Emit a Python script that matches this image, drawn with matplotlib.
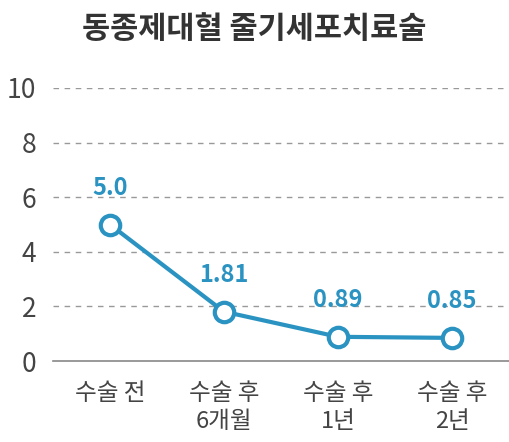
import matplotlib.pyplot as plt

plt.rcParams['font.family'] = ['Roboto', 'Noto Sans CJK KR', 'DejaVu Sans']

categories = ['수술 전', '수술 후\n6개월', '수술 후\n1년', '수술 후\n2년']
values = [5.0, 1.81, 0.89, 0.85]
value_labels = ['5.0', '1.81', '0.89', '0.85']
yticks = [0, 2, 4, 6, 8, 10]

blue = '#2a93c1'

fig = plt.figure(figsize=(5.09, 4.42), dpi=100)
ax = fig.add_axes([0.104, 0.183, 0.896, 0.618])

x = list(range(len(categories)))
ax.plot(x, values, color=blue, lw=3, marker='o', ms=14, mfc='white',
        mec=blue, mew=3, zorder=3, clip_on=False)
for xi, v, lab in zip(x, values, value_labels):
    ax.annotate(lab, (xi, v), xytext=(0, 18), textcoords='offset points',
                ha='center', va='bottom', color=blue, fontsize=17,
                fontweight='bold', family=['Noto Sans CJK KR'])

ax.set_xlim(-0.5, 3.5)
ax.set_ylim(0, 10)
ax.set_yticks(yticks)
ax.set_xticks(x)
ax.set_xticklabels(categories, fontsize=17, color='#444444', linespacing=1.3,
                   va='top', family=['Noto Sans CJK KR'])
ax.tick_params(axis='y', length=0, pad=12, labelsize=19, labelcolor='#444444')
for lbl in ax.get_yticklabels():
    lbl.set_family(['Noto Sans CJK KR'])
ax.tick_params(axis='x', length=0, pad=15)
for yt in yticks[1:]:
    ax.axhline(yt, color='#999999', lw=1, ls=(0, (4, 4)), zorder=1)
for s in ['top', 'right', 'left']:
    ax.spines[s].set_visible(False)
ax.spines['bottom'].set_color('#888888')
ax.spines['bottom'].set_linewidth(1.2)

fig.text(0.5, 0.935, '동종제대혈 줄기세포치료술', ha='center', va='center',
         fontsize=22, fontweight='bold', color='#333333',
         family=['Noto Sans CJK KR'])

fig.savefig('out.png', dpi=100)
